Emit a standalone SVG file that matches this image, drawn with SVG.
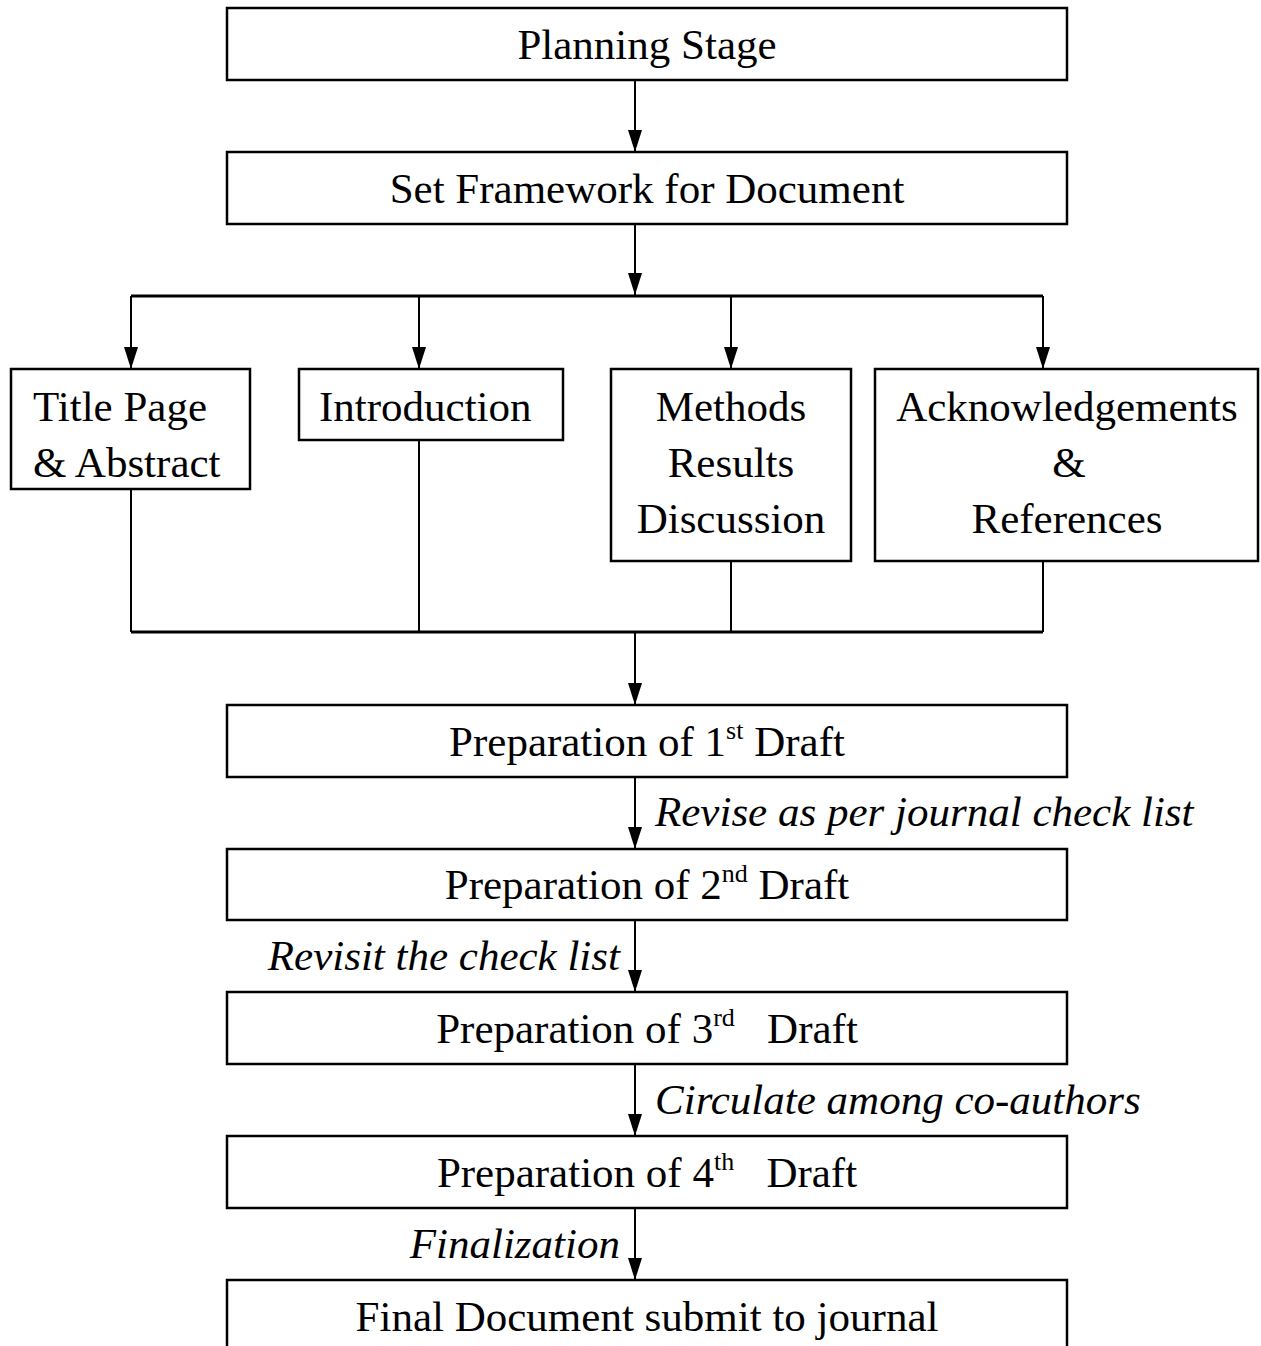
<svg xmlns="http://www.w3.org/2000/svg" width="1261" height="1346" viewBox="0 0 1261 1346">
<style>
.box{fill:#fff;stroke:#000;stroke-width:2.5}
.t{font-family:"Liberation Serif","Times New Roman",serif;font-size:43px;fill:#000}
.c{text-anchor:middle}
.i{font-style:italic}
.sup{font-size:26px}
.ln{fill:none;stroke:#000;stroke-width:2}
.bus{fill:none;stroke:#000;stroke-width:3}
</style>
<defs>
<marker id="arr" markerUnits="userSpaceOnUse" markerWidth="22" markerHeight="14" refX="22" refY="7" orient="auto" viewBox="0 0 22 14">
<path d="M0,0 L22,7 L0,14 Z" fill="#000"/>
</marker>
</defs>
<g id="connectors">
<line class="ln" x1="635" y1="80" x2="635" y2="152" marker-end="url(#arr)"/>
<line class="ln" x1="635" y1="224" x2="635" y2="295" marker-end="url(#arr)"/>
<polyline class="bus" points="131,296 1043,296"/>
<line class="ln" x1="131" y1="296" x2="131" y2="369" marker-end="url(#arr)"/>
<line class="ln" x1="419" y1="296" x2="419" y2="369" marker-end="url(#arr)"/>
<line class="ln" x1="731" y1="296" x2="731" y2="369" marker-end="url(#arr)"/>
<line class="ln" x1="1043" y1="296" x2="1043" y2="369" marker-end="url(#arr)"/>
<line class="ln" x1="131" y1="489" x2="131" y2="632"/>
<line class="ln" x1="419" y1="440" x2="419" y2="632"/>
<line class="ln" x1="731" y1="561" x2="731" y2="632"/>
<line class="ln" x1="1043" y1="561" x2="1043" y2="632"/>
<polyline class="bus" points="131,632 1043,632"/>
<line class="ln" x1="635" y1="632" x2="635" y2="705" marker-end="url(#arr)"/>
<line class="ln" x1="635" y1="777" x2="635" y2="849" marker-end="url(#arr)"/>
<line class="ln" x1="635" y1="920" x2="635" y2="992" marker-end="url(#arr)"/>
<line class="ln" x1="635" y1="1064" x2="635" y2="1136" marker-end="url(#arr)"/>
<line class="ln" x1="635" y1="1208" x2="635" y2="1280" marker-end="url(#arr)"/>
<text class="t i" x="655" y="826">Revise as per journal check list</text>
<text class="t i" x="620" y="970" text-anchor="end">Revisit the check list</text>
<text class="t i" x="655" y="1114">Circulate among co-authors</text>
<text class="t i" x="620" y="1258" text-anchor="end">Finalization</text>
</g>
<g id="planning">
<rect class="box" x="227" y="8" width="840" height="72"/>
<text class="t c" x="647" y="59">Planning Stage</text>
</g>
<g id="framework">
<rect class="box" x="227" y="152" width="840" height="72"/>
<text class="t c" x="647" y="203">Set Framework for Document</text>
</g>
<g id="title-page">
<rect class="box" x="11" y="369" width="239" height="120"/>
<text class="t" x="33" y="421">Title Page</text>
<text class="t" x="33" y="477">&amp; Abstract</text>
</g>
<g id="introduction">
<rect class="box" x="299" y="369" width="264" height="71"/>
<text class="t" x="319" y="421">Introduction</text>
</g>
<g id="methods">
<rect class="box" x="611" y="369" width="240" height="192"/>
<text class="t c" x="731" y="421">Methods</text>
<text class="t c" x="731" y="477">Results</text>
<text class="t c" x="731" y="533">Discussion</text>
</g>
<g id="acknowledgements">
<rect class="box" x="875" y="369" width="383" height="192"/>
<text class="t c" x="1067" y="421">Acknowledgements</text>
<text class="t c" x="1069" y="477">&amp;</text>
<text class="t c" x="1067" y="533">References</text>
</g>
<g id="draft1">
<rect class="box" x="227" y="705" width="840" height="72"/>
<text class="t c" x="647" y="756">Preparation of 1<tspan class="sup" dy="-17">st</tspan><tspan dy="17"> Draft</tspan></text>
</g>
<g id="draft2">
<rect class="box" x="227" y="849" width="840" height="71"/>
<text class="t c" x="647" y="899">Preparation of 2<tspan class="sup" dy="-17">nd</tspan><tspan dy="17"> Draft</tspan></text>
</g>
<g id="draft3">
<rect class="box" x="227" y="992" width="840" height="72"/>
<text class="t c" x="647" y="1043" xml:space="preserve">Preparation of 3<tspan class="sup" dy="-17">rd</tspan><tspan dy="17">   Draft</tspan></text>
</g>
<g id="draft4">
<rect class="box" x="227" y="1136" width="840" height="72"/>
<text class="t c" x="647" y="1187" xml:space="preserve">Preparation of 4<tspan class="sup" dy="-17">th</tspan><tspan dy="17">   Draft</tspan></text>
</g>
<g id="final">
<rect class="box" x="227" y="1280" width="840" height="80"/>
<text class="t c" x="647" y="1331">Final Document submit to journal</text>
</g>
</svg>
